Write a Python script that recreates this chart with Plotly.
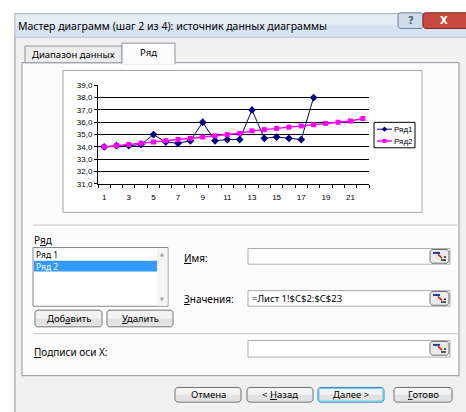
import plotly.graph_objects as go

# Series values (category index 1..22)
categories = [1, 2, 3, 4, 5, 6, 7, 8, 9, 10, 11, 12, 13, 14, 15, 16, 17, 18, 19, 20, 21, 22]
ryad1 = [34.0, 34.1, 34.1, 34.2, 35.0, 34.4, 34.3, 34.5, 36.0, 34.5, 34.6, 34.6,
         37.0, 34.7, 34.8, 34.7, 34.6, 38.0]
ryad2 = [34.0, 34.1, 34.2, 34.3, 34.4, 34.5, 34.6, 34.7, 34.8, 34.9, 35.0, 35.1,
         35.3, 35.4, 35.5, 35.6, 35.7, 35.8, 35.9, 36.0, 36.1, 36.3]
series_names = ["Ряд1", "Ряд2"]
list_items = ["Ряд 1", "Ряд 2"]

W, H = 466, 412
UI_FONT = "Noto Sans"
CHART_FONT = "Liberation Sans"


def X(p):
    return p / W


def Y(p):
    return 1 - p / H


shapes = []
annotations = []


def rect(x0, y0, x1, y1, fill, line=None, lw=1, layer="below"):
    shapes.append(dict(type="rect", xref="paper", yref="paper",
                       x0=X(x0), x1=X(x1), y0=Y(y1), y1=Y(y0),
                       fillcolor=fill,
                       line=dict(color=line if line else "rgba(0,0,0,0)", width=lw if line else 0),
                       layer=layer))


def hline(x0, x1, y, color, lw=1, layer="below"):
    shapes.append(dict(type="line", xref="paper", yref="paper",
                       x0=X(x0), x1=X(x1), y0=Y(y), y1=Y(y),
                       line=dict(color=color, width=lw), layer=layer))


def seg(x0, y0, x1, y1, color, lw=1, layer="below"):
    shapes.append(dict(type="line", xref="paper", yref="paper",
                       x0=X(x0), x1=X(x1), y0=Y(y0), y1=Y(y1),
                       line=dict(color=color, width=lw), layer=layer))


def poly(points, fill, line=None, lw=1, layer="below"):
    path = "M" + " L".join(f"{X(a):.5f},{Y(b):.5f}" for a, b in points) + " Z"
    shapes.append(dict(type="path", xref="paper", yref="paper", path=path,
                       fillcolor=fill,
                       line=dict(color=line if line else "rgba(0,0,0,0)", width=lw if line else 0),
                       layer=layer))


def rbox(x0, y0, x1, y1, fill, line, r=2, layer="below"):
    pts = [(x0 + r, y0), (x1 - r, y0), (x1, y0 + r), (x1, y1 - r),
           (x1 - r, y1), (x0 + r, y1), (x0, y1 - r), (x0, y0 + r)]
    poly(pts, fill, line, 1, layer)


def text(x, y, s, size=10, color="black", anchor="left", family=UI_FONT):
    annotations.append(dict(x=X(x), y=Y(y), xref="paper", yref="paper", text=s,
                            showarrow=False, xanchor=anchor, yanchor="middle",
                            borderpad=0, font=dict(family=family, size=size, color=color)))


def button(x0, y0, x1, y1, label, default=False):
    rect(x0 + 1, y0 + 1, x1 - 1, (y0 + y1) / 2, "#f3f3f3")
    rect(x0 + 1, (y0 + y1) / 2, x1 - 1, y1 - 1, "#e2e2e2")
    rbox(x0, y0, x1, y1, "rgba(0,0,0,0)", "#3c7fb1" if default else "#707070")
    if default:
        rbox(x0 + 1, y0 + 1, x1 - 1, y1 - 1, "rgba(0,0,0,0)", "#48d0f8", r=1)
    text((x0 + x1) / 2, (y0 + y1) / 2, label, size=9.5, anchor="center")


def picker(x0, y0):
    # range-selection button next to an input field
    rbox(x0, y0, x0 + 19, y0 + 14, "#ececec", "#707070")
    seg(x0 + 3, y0 + 3.5, x0 + 10, y0 + 3.5, "#1f3f9f", 2)
    seg(x0 + 8, y0 + 5, x0 + 12, y0 + 9, "#e01010", 1.5)
    rect(x0 + 11, y0 + 10, x0 + 16, y0 + 11.5, "#202020")
    rect(x0 + 14, y0 + 7, x0 + 16, y0 + 8.5, "#202020")


def field(x0, y0, x1, y1):
    rect(x0, y0, x1, y1, "white", "#abadb3")
    picker(x1 - 20, y0 + 1)


# window frame and title bar
rect(15, 10, 470, 420, "#f0f0f0", "#8796ad")
rect(15.5, 10.5, 470, 22, "#e4ecf6")
rect(15.5, 22, 470, 34, "#d6e2f0")
hline(15, 470, 34, "#b9c6d6")
text(17, 23, "Мастер диаграмм (шаг 2 из 4): источник данных диаграммы", size=10.5)

# caption buttons
rbox(398, 9, 423, 25, "#cedbeb", "#6e7f98")
text(410.5, 17, "<b>?</b>", size=10, color="#4c5d75", anchor="center", family="DejaVu Sans")
rbox(423, 9, 472, 25, "#c84a3e", "#7a2a26")
text(444, 17, "<b>X</b>", size=10, color="white", anchor="center", family="DejaVu Sans")

# tab page
rect(22, 60, 459, 380, "#fcfcfc", "#8e959e")
rect(25, 43, 122, 60, "#ededee", "#8e959e")
text(73.5, 52, "Диапазон данных", size=9.5, anchor="center")
rect(122, 40, 175, 61, "#fcfcfc", "#8e959e")
hline(122.5, 174.5, 60.5, "#fcfcfc", 2)
text(148.5, 50, "Ряд", size=9.5, anchor="center")

# chart area box
rect(63, 68, 422, 213, "white", "#a5a5a5")

# legend
rect(374, 121, 415, 147, "white", "black", layer="above")
seg(377, 128, 392, 128, "#000080", 1, layer="above")
poly([(384.5, 125.3), (387.2, 128), (384.5, 130.7), (381.8, 128)], "#000080", layer="above")
text(393, 128.5, series_names[0], size=8, family=CHART_FONT)
seg(377, 140, 392, 140, "#ff00ff", 1.5, layer="above")
rect(382.5, 138, 386.5, 142, "#ff00ff", layer="above")
text(393, 140.5, series_names[1], size=8, family=CHART_FONT)

# series block
hline(33, 458, 226, "#c9c9c9")
text(33, 241, "Р<u>я</u>д", size=10)
rect(33, 249, 168, 309, "white", "#828790")
rect(34, 262.5, 157, 273.5, "#3399ff")
text(35, 256, list_items[0], size=8.5)
text(35, 268, list_items[1], size=8.5, color="white")
rect(157, 250, 167.5, 308.5, "#f4f4f4")
text(162, 256, "▲", size=5, color="#a0a0a0", anchor="center", family="DejaVu Sans")
text(162, 302, "▼", size=5, color="#a0a0a0", anchor="center", family="DejaVu Sans")
button(35, 313, 102, 330, "Доб<u>а</u>вить")
button(107, 313, 173, 330, "<u>У</u>далить")

text(183, 260, "<u>И</u>мя:", size=10)
field(248, 250, 450, 266)
text(183, 302, "<u>З</u>начения:", size=10)
field(248, 293, 450, 309)
text(251, 301, "=Лист 1!$C$2:$C$23", size=9.5)

hline(33, 458, 337, "#c9c9c9")
text(33, 356, "<u>П</u>одписи оси X:", size=10)
field(248, 344, 450, 361)

# dialog buttons
button(175, 392, 241, 407, "Отмена")
button(247, 392, 313, 407, "&lt; <u>Н</u>азад")
button(318, 392, 384, 407, "<u>Д</u>алее &gt;", default=True)
button(394, 392, 452, 407, "<u>Г</u>отово")

fig = go.Figure()
fig.add_trace(go.Scatter(
    x=categories[:len(ryad1)], y=ryad1, name=series_names[0], mode="lines+markers",
    line=dict(color="#000080", width=1),
    marker=dict(symbol="diamond", size=6, color="#000080"),
    cliponaxis=False))
fig.add_trace(go.Scatter(
    x=categories[:len(ryad2)], y=ryad2, name=series_names[1], mode="lines+markers",
    line=dict(color="#ff00ff", width=1.5),
    marker=dict(symbol="square", size=5, color="#ff00ff"),
    cliponaxis=False))

axis_font = dict(family=CHART_FONT, size=8, color="black")
fig.update_layout(
    width=W, height=H, autosize=False,
    margin=dict(l=0, r=0, t=0, b=0),
    paper_bgcolor="white", plot_bgcolor="#c0c0c0",
    separators=", ", showlegend=False,
    shapes=shapes, annotations=annotations,
    xaxis=dict(domain=[X(98), X(369)], range=[0.5, 22.5],
               tickmode="linear", tick0=1, dtick=2,
               ticks="outside", ticklen=5, tickcolor="rgba(0,0,0,0)",
               minor=dict(ticks="outside", ticklen=3, tick0=0.5, dtick=1,
                          tickcolor="black", showgrid=False),
               showgrid=False, zeroline=False, showline=True,
               linecolor="black", linewidth=1, tickfont=axis_font, fixedrange=True),
    yaxis=dict(domain=[Y(184), Y(83)], range=[31, 39],
               tickmode="linear", tick0=31, dtick=1, tickformat=".1f",
               ticks="outside", ticklen=3, tickcolor="black",
               showgrid=True, gridcolor="black", gridwidth=1,
               zeroline=False, showline=True, linecolor="black", linewidth=1,
               tickfont=axis_font, fixedrange=True),
)

fig.write_html("out.html")
